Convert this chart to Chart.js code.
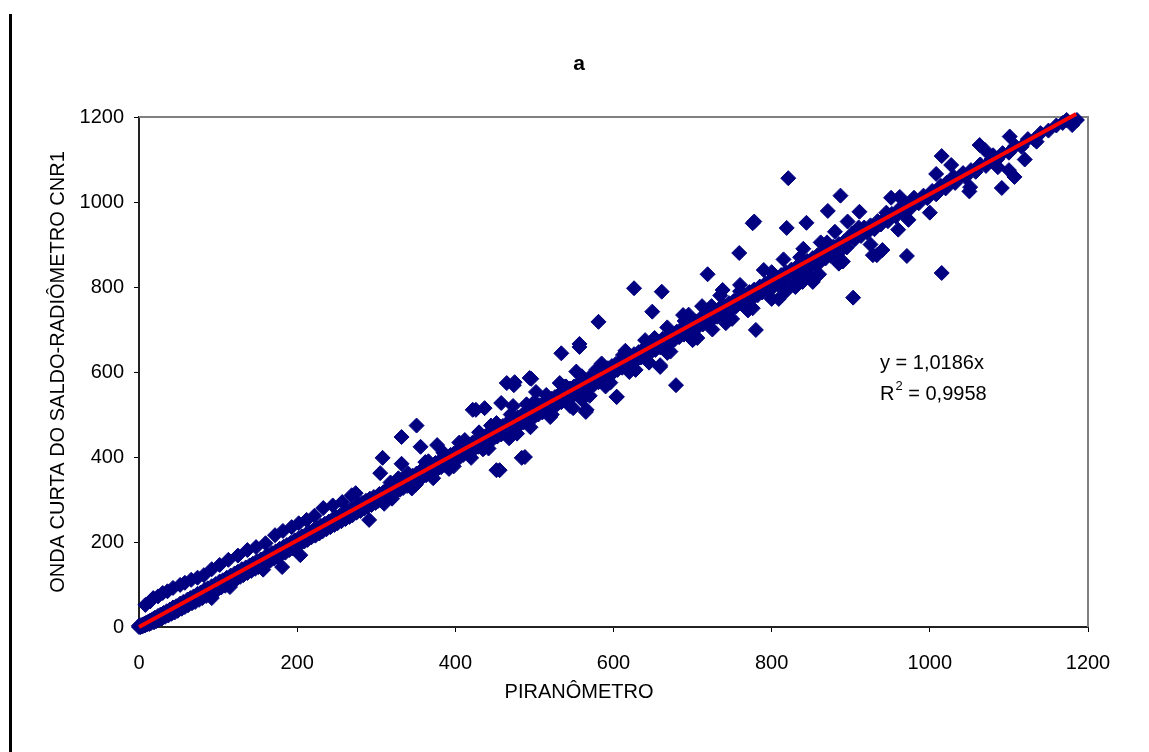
<!DOCTYPE html>
<html>
<head>
<meta charset="utf-8">
<script src="https://cdn.jsdelivr.net/npm/chart.js@4/dist/chart.umd.min.js"></script>
<style>
  html, body { margin: 0; padding: 0; background: #fff; }
  #wrap { width: 1149px; height: 752px; position: relative; }
</style>
</head>
<body>
<div id="wrap"><canvas id="chart" width="1149" height="752"></canvas></div>
<script>
// Paired readings [piranômetro, CNR1 onda curta], W/m², grouped by range
const readingsTo300 = [
  [0,0],[0,3],[1,1],[2,0],[2,4],[3,2],[4,5],[4,1],[5,6],[6,3],[7,8],[8,4],[9,10],[10,6],[12,13],[13,7],
  [14,15],[15,9],[17,18],[19,11],[20,22],[22,14],[24,26],[25,17],[27,29],[29,20],[31,33],[33,24],[35,37],
  [37,27],[39,41],[41,31],[43,46],[45,34],[47,49],[49,38],[52,55],[54,43],[56,59],[58,47],[61,64],[62,51],
  [65,68],[67,56],[69,72],[71,59],[74,78],[76,64],[78,81],[80,68],[83,88],[85,73],[87,91],[90,78],[92,96],
  [94,83],[97,101],[99,87],[102,107],[104,93],[106,110],[109,97],[111,116],[113,103],[116,121],[118,108],
  [121,126],[123,112],[125,130],[128,118],[130,136],[132,122],[135,140],[137,127],[140,145],[142,132],
  [144,149],[147,137],[149,155],[151,141],[154,159],[156,146],[159,164],[161,151],[163,168],[166,156],
  [168,174],[171,161],[173,178],[175,165],[178,184],[180,171],[183,189],[185,175],[187,193],[190,181],
  [192,198],[194,185],[197,204],[199,191],[202,209],[204,196],[206,213],[209,201],[211,218],[213,205],
  [216,223],[218,211],[221,229],[223,215],[225,233],[228,220],[230,238],[232,225],[235,243],[237,230],
  [240,248],[242,235],[244,252],[247,240],[249,258],[251,244],[254,262],[256,249],[259,268],[261,254],
  [263,272],[266,259],[268,277],[270,263],[273,282],[275,269],[278,288],[280,273],[282,292],[285,279],
  [287,297],[289,283],[292,302],[294,287],[297,306],[299,292]
];
const upperRowTo300 = [
  [8,52],[14,60],[18,68],[24,72],[30,80],[36,84],[43,92],[52,99],[58,104],[66,111],[74,116],[82,122],
  [92,136],[102,146],[113,158],[125,168],[137,181],[148,188],[160,197],[172,216],[182,226],[193,235],
  [202,244],[212,252],[222,262],[233,280],[245,286],[257,294],[269,310],[274,315],
  [92,68],[115,94],[157,135],[181,141],[204,169],[291,252]
];
const readings300to600 = [
  [304,313],[309,317],[313,323],[318,327],[323,333],[327,336],[332,342],[337,347],[342,352],[346,356],
  [351,361],[356,367],[360,370],[365,376],[370,380],[375,386],[379,389],[384,395],[389,400],[394,405],
  [398,408],[403,414],[408,419],[413,424],[417,428],[422,434],[427,439],[432,444],[436,448],[441,454],
  [446,459],[450,463],[455,469],[460,473],[465,479],[469,483],[474,489],[479,493],[484,498],[488,502],
  [493,508],[498,512],[503,518],[507,522],[512,527],[517,532],[522,537],[526,541],[531,547],[536,551],
  [541,557],[545,561],[550,566],[555,571],[560,576],[564,580],[569,586],[574,590],[579,595],[583,599],
  [588,604],[593,609],[598,614],
  [302,296],[306,299],[311,304],[316,309],[320,313],[325,318],[330,323],[334,327],[339,332],[344,337],
  [349,343],[353,347],[358,352],[363,357],[368,362],[372,366],[377,371],[382,376],[387,381],[391,385],
  [396,391],[401,395],[406,400],[410,405],[415,410],[420,414],[424,419],[429,424],[434,428],[439,434],
  [443,438],[448,443],[453,448],[458,453],[462,457],[467,462],[472,467],[477,472],[481,476],[486,481],
  [491,486],[496,491],[500,495],[505,500],[510,505],[515,510],[519,514],[524,519],[529,524],[534,529],
  [538,533],[543,538],[548,543],[553,548],[557,552],[562,557],[567,562],[572,567],[576,571],[581,576],
  [586,581],[591,586],[595,590]
];
const scattered300to600 = [
  [305,362],[308,398],[332,447],[332,384],[351,474],[356,424],[377,428],[422,511],[426,511],[437,515],
  [458,527],[473,520],[474,569],[496,584],[502,553],[532,574],[534,644],[553,601],[557,659],[557,666],
  [581,718],[465,574],[475,576],[494,586],[549,515],[566,511],[565,506],[604,542],[488,400],[484,398],
  [452,369],[456,369],
  [318,340],[340,362],[362,388],[385,410],[405,434],[430,458],[445,474],[470,500],[490,524],[515,546],
  [540,566],[560,590],[585,620],
  [320,302],[345,326],[372,350],[398,378],[420,398],[442,420],[468,444],[495,470],[520,494],[545,520],
  [570,544],[590,566],
  [310,290],[328,350],[350,335],[366,390],[392,372],[412,440],[435,418],[452,480],[478,455],[500,530],
  [522,500],[538,565],[560,535],[578,605],[596,575]
];
const readings600to900 = [
  [603,619],[608,624],[614,630],[620,635],[626,642],[632,647],[638,654],[644,659],[650,666],[656,671],
  [662,678],[668,683],[674,690],[680,695],[686,702],[692,707],[698,714],[704,719],[710,726],[716,731],
  [722,738],[728,743],[734,750],[740,755],[746,762],[752,767],[758,774],[765,781],[772,788],[778,794],
  [785,801],[792,808],[798,815],[805,821],[812,828],[818,835],[825,841],[832,848],[838,855],[845,861],
  [852,868],[858,875],[865,881],[872,888],[878,895],[885,901],[892,908],[898,915],
  [600,600],[605,605],[611,610],[617,616],[623,622],[629,628],[635,634],[641,640],[647,646],[653,652],
  [659,658],[665,664],[671,670],[677,676],[683,682],[689,688],[695,694],[701,700],[707,706],[713,712],
  [719,718],[725,724],[731,730],[737,736],[743,742],[749,748],[755,754],[762,760],[768,767],[775,773],
  [782,780],[788,787],[795,793],[802,800],[808,806],[815,813],[822,820],[828,827],[835,833],[842,840],
  [848,847],[855,853],[862,860],[868,867],[875,873],[882,880],[888,887],[895,893]
];
const scattered600to900 = [
  [626,797],[649,742],[661,789],[688,734],[719,830],[738,793],[759,880],[776,950],[778,954],[819,939],
  [821,1056],[844,951],[871,979],[887,1015],[896,954],[911,977],[780,699],[659,616],[659,612],[679,569],
  [604,541],[809,772],[839,812],[852,812],[903,775],[928,875],[940,887],
  [615,650],[640,675],[668,705],[695,735],[712,755],[735,780],[760,805],[790,840],[815,865],[840,890],
  [862,905],[880,930],
  [620,600],[645,622],[672,648],[700,675],[725,700],[750,725],[770,745],[800,772],[830,800],[860,830],
  [885,855],
  [612,640],[628,605],[652,680],[668,645],[690,720],[706,680],[724,755],[742,715],[760,790],[776,750],
  [800,835],[818,790],[836,870],[850,825],[870,905],[890,860]
];
const readingsAbove900 = [
  [902,926],[905,912],[909,932],[913,920],[917,940],[921,928],[925,945],[930,936],[934,955],[938,947],
  [943,962],[947,955],[952,972],[957,966],[962,985],[966,975],[971,995],[976,986],[981,1003],[986,997],
  [992,1015],[997,1009],[1003,1026],[1008,1018],[1014,1038],[1020,1032],[1026,1048],[1032,1045],
  [1038,1060],[1045,1058],[1052,1075],[1058,1071],[1064,1088],[1071,1085],[1078,1101],[1085,1100],
  [1092,1115],[1100,1116],[1108,1132],[1116,1130],[1124,1148],[1132,1147],[1140,1162],[1150,1168],
  [1160,1180],[1168,1186]
];
const scatteredAbove900 = [
  [951,1010],[962,1012],[973,958],[971,873],[987,1005],[1008,1066],[1015,1108],[1015,833],[1021,1045],
  [1027,1087],[1042,1068],[1051,1035],[1063,1134],[1063,1087],[1070,1122],[1086,1082],[1091,1033],
  [1101,1154],[1107,1059],[1135,1142],[1173,1193],[1180,1181],[1186,1193],[933,875],
  [910,940],[925,900],[945,975],[960,935],[980,1010],[1000,975],[1030,1060],[1050,1025],[1080,1110],
  [1100,1075],[1120,1100]
];

// Linear fit through the origin
const slope = 1.0186;
const rSquared = 0.9958;
const trendRange = [0, 1185];

const xTicks = [0, 200, 400, 600, 800, 1000, 1200];
const yTicks = [0, 200, 400, 600, 800, 1000, 1200];

const chartTitle = 'a';
const xTitle = 'PIRANÔMETRO';
const yTitle = 'ONDA CURTA DO SALDO-RADIÔMETRO CNR1';

const FONT = '"Liberation Sans", Arial, sans-serif';
const TEXT_SIZE = 20;

const allReadings = [].concat(
  readingsTo300, upperRowTo300, readings300to600, scattered300to600,
  readings600to900, scattered600to900, readingsAbove900, scatteredAbove900
).map(([x, y]) => ({ x, y }));

const trendPoints = trendRange.map(x => ({ x, y: slope * x }));

const fmt = (v, d) => v.toFixed(d).replace('.', ',');

const decorations = {
  id: 'decorations',
  beforeDatasetsDraw(chart) {
    const { ctx, chartArea: a } = chart;
    ctx.save();
    // plot-area frame on the top and right sides
    ctx.strokeStyle = '#808080';
    ctx.lineWidth = 2;
    ctx.beginPath();
    ctx.moveTo(a.left, a.top);
    ctx.lineTo(a.right, a.top);
    ctx.lineTo(a.right, a.bottom);
    ctx.stroke();
    ctx.restore();
  },
  afterDraw(chart) {
    const { ctx } = chart;
    ctx.save();
    // page margin rule on the left
    ctx.fillStyle = '#000';
    ctx.fillRect(9, 14, 3, 738);

    ctx.textBaseline = 'middle';
    ctx.textAlign = 'center';
    ctx.font = 'bold 21px ' + FONT;
    ctx.fillText(chartTitle, 579, 64);
    ctx.font = TEXT_SIZE + 'px ' + FONT;
    ctx.fillText(xTitle, 579, 692);

    // regression equation
    ctx.textAlign = 'left';
    ctx.font = TEXT_SIZE + 'px ' + FONT;
    const tx = 880;
    ctx.fillText('y = ' + fmt(slope, 4) + 'x', tx, 363);
    ctx.fillText('R', tx, 394);
    const rw = ctx.measureText('R').width;
    ctx.font = '13px ' + FONT;
    ctx.fillText('2', tx + rw + 1, 386);
    const sw = ctx.measureText('2').width;
    ctx.font = TEXT_SIZE + 'px ' + FONT;
    ctx.fillText(' = ' + fmt(rSquared, 4), tx + rw + 1 + sw, 394);
    ctx.restore();
  }
};

const tickFont = { family: FONT, size: TEXT_SIZE };
const plainNumber = v => String(v);

new Chart(document.getElementById('chart'), {
  data: {
    datasets: [
      {
        type: 'line',
        data: trendPoints,
        borderColor: '#ff0000',
        borderWidth: 4,
        pointRadius: 0,
        fill: false,
        order: 0,
        clip: false
      },
      {
        type: 'scatter',
        data: allReadings,
        pointStyle: 'rectRot',
        pointRadius: 7.5,
        backgroundColor: '#000080',
        borderColor: '#000080',
        borderWidth: 1,
        order: 1,
        clip: false
      }
    ]
  },
  options: {
    responsive: false,
    animation: false,
    devicePixelRatio: 1,
    layout: { padding: { top: 117, right: 61, left: 0, bottom: 0 } },
    plugins: {
      legend: { display: false },
      tooltip: { enabled: false },
      title: { display: false }
    },
    scales: {
      x: {
        type: 'linear',
        min: 0,
        max: 1200,
        afterBuildTicks(scale) { scale.ticks = xTicks.map(v => ({ value: v })); },
        afterFit(scale) { scale.height = 125; },
        ticks: { font: tickFont, color: '#000', padding: 19, maxRotation: 0, callback: plainNumber },
        grid: { drawOnChartArea: false, drawTicks: true, tickLength: 5, color: '#000', lineWidth: 1 },
        border: { display: true, color: '#222', width: 2 }
      },
      y: {
        type: 'linear',
        min: 0,
        max: 1200,
        afterBuildTicks(scale) { scale.ticks = yTicks.map(v => ({ value: v })); },
        afterFit(scale) { scale.width = 139; },
        ticks: { font: tickFont, color: '#000', padding: 10, callback: plainNumber },
        grid: { drawOnChartArea: false, drawTicks: true, tickLength: 5, color: '#000', lineWidth: 1 },
        border: { display: true, color: '#222', width: 2 },
        title: {
          display: true,
          text: yTitle,
          color: '#000',
          font: { family: FONT, size: TEXT_SIZE },
          padding: { top: 46, bottom: 0 }
        }
      }
    }
  },
  plugins: [decorations]
});
</script>
</body>
</html>
